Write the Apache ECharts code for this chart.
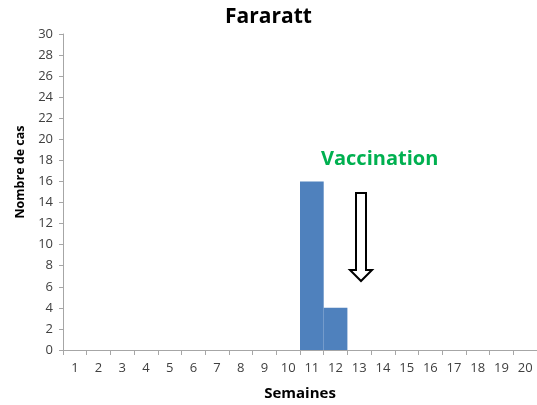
<!DOCTYPE html>
<html>
<head>
<meta charset="utf-8">
<script src="https://cdn.jsdelivr.net/npm/echarts@6/dist/echarts.min.js"></script>
<style>
  html, body { margin: 0; padding: 0; background: #fff; }
  #chart { width: 537px; height: 405px; }
</style>
</head>
<body>
<div id="chart"></div>
<script>
// semaines et nombre de cas
const weeks = ['1','2','3','4','5','6','7','8','9','10','11','12','13','14','15','16','17','18','19','20']
const cases = [0,0,0,0,0,0,0,0,0,0,16,4,0,0,0,0,0,0,0,0]
const yTicks = { min: 0, max: 30, interval: 2 }

const font = 'Open Sans, Liberation Sans, sans-serif'
const chart = echarts.init(document.getElementById('chart'))

chart.setOption({
  animation: false,
  title: {
    text: 'Fararatt',
    left: 'center',
    top: 2,
    textStyle: { fontFamily: font, fontSize: 21, fontWeight: 'bold', color: '#000' }
  },
  grid: { left: 63, right: 0, top: 34, bottom: 55, outerBoundsMode: 'none', containLabel: false },
  xAxis: {
    type: 'category',
    data: weeks,
    name: 'Semaines',
    nameLocation: 'middle',
    nameGap: 36,
    nameTextStyle: { fontFamily: font, fontSize: 15, fontWeight: 'bold', color: '#000' },
    axisLine: { lineStyle: { color: '#a6a6a6' } },
    axisTick: { show: true, length: 5, lineStyle: { color: '#a6a6a6' } },
    axisLabel: { fontFamily: font, fontSize: 13, color: '#404040', margin: 12, interval: 0 }
  },
  yAxis: {
    type: 'value',
    min: yTicks.min,
    max: yTicks.max,
    interval: yTicks.interval,
    name: 'Nombre de cas',
    nameLocation: 'middle',
    nameGap: 32,
    nameTextStyle: { fontFamily: font, fontSize: 12.5, fontWeight: 'bold', color: '#000', padding: [0, 0, 0, 40] },
    axisLine: { show: true, lineStyle: { color: '#a6a6a6' } },
    axisTick: { show: true, length: 4, lineStyle: { color: '#a6a6a6' } },
    axisLabel: { fontFamily: font, fontSize: 13, color: '#404040', margin: 10 },
    splitLine: { show: false }
  },
  series: [{
    type: 'bar',
    data: cases,
    barCategoryGap: '0%',
    itemStyle: { color: '#4f81bd' }
  }],
  graphic: [
    {
      type: 'text',
      left: 321,
      top: 149,
      style: { text: 'Vaccination', fill: '#00b050', font: 'bold 20px ' + font }
    },
    {
      type: 'polygon',
      shape: {
        points: [[356, 193], [366, 193], [366, 270], [372, 270], [361, 281], [350, 270], [356, 270]]
      },
      style: { fill: '#fff', stroke: '#000', lineWidth: 2 }
    }
  ]
})
</script>
</body>
</html>
